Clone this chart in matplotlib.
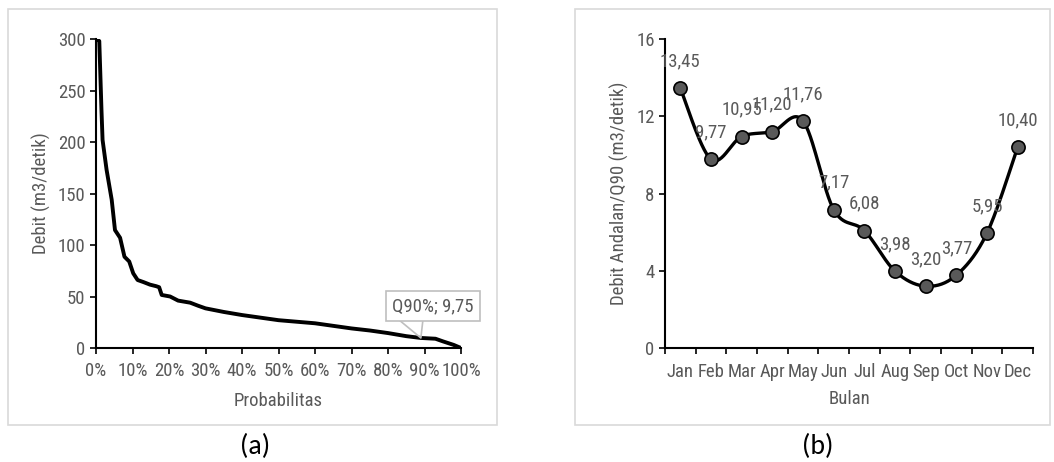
import numpy as np
import matplotlib.pyplot as plt
from matplotlib import font_manager
from matplotlib.patches import Rectangle
from matplotlib.ticker import PercentFormatter, FixedLocator

# cari font sempit (mirip Arial Narrow)
tersedia = {f.name for f in font_manager.fontManager.ttflist}
pilihan = ['Liberation Sans Narrow', 'Arial Narrow', 'Roboto Condensed', 'DejaVu Sans Condensed',
           'Open Sans Condensed', 'Liberation Sans']
font_sempit = next(f for f in pilihan if f in tersedia)
plt.rcParams['font.family'] = [font_sempit, 'DejaVu Sans']
fs = 13.5 if font_sempit != 'Liberation Sans' else 11.5

# kurva durasi debit (a)
prob = [0.0, 0.009, 0.015, 0.018, 0.029, 0.043, 0.052, 0.066, 0.078, 0.091, 0.102,
        0.114, 0.13, 0.148, 0.165, 0.173, 0.18, 0.203, 0.225, 0.258, 0.28, 0.30,
        0.35, 0.40, 0.45, 0.50, 0.55, 0.60, 0.65, 0.70, 0.75, 0.80, 0.85, 0.89,
        0.93, 0.95, 0.98, 1.0]
debit = [300, 298, 231, 202, 173, 144, 114.5, 107, 88.6, 84, 72.5,
         66, 64, 61.5, 60, 59, 51.5, 50, 46, 44, 41, 38.5,
         35, 32, 29.5, 27, 25.5, 24, 21.5, 19, 17, 14.5, 11.5, 9.75,
         9, 6.5, 3, 0]

# debit andalan Q90 per bulan (b)
bulan = ['Jan', 'Feb', 'Mar', 'Apr', 'May', 'Jun', 'Jul', 'Aug', 'Sep', 'Oct', 'Nov', 'Dec']
q90 = [13.45, 9.77, 10.95, 11.20, 11.76, 7.17, 6.08, 3.98, 3.20, 3.77, 5.95, 10.40]
q90_label = ['13,45', '9,77', '10,95', '11,20', '11,76', '7,17', '6,08', '3,98', '3,20', '3,77', '5,95', '10,40']

abu = '#595959'


def smooth(x, y, sx, sy, n=30):
    # kurva halus ala Excel (Bezier dari titik tetangga)
    px = np.asarray(x, float) * sx
    py = np.asarray(y, float) * sy
    P = np.column_stack([px, py])
    P = np.vstack([P[0], P, P[-1]])
    out = []
    t = np.linspace(0, 1, n)[:, None]
    for i in range(1, len(P) - 2):
        p0, p1, p2, p3 = P[i - 1], P[i], P[i + 1], P[i + 2]
        c1 = p1 + (p2 - p0) / 6
        c2 = p2 - (p3 - p1) / 6
        seg = ((1 - t) ** 3) * p1 + 3 * ((1 - t) ** 2) * t * c1 + 3 * (1 - t) * t ** 2 * c2 + t ** 3 * p2
        out.append(seg)
    out = np.vstack(out)
    return out[:, 0] / sx, out[:, 1] / sy


fig = plt.figure(figsize=(10.54, 4.62), dpi=100)

# bingkai
fig.patches.append(Rectangle((8 / 1054, 1 - 425 / 462), 489 / 1054, 416 / 462,
                             transform=fig.transFigure, fill=False, ec='#d9d9d9', lw=1.2))
fig.patches.append(Rectangle((575 / 1054, 1 - 425 / 462), 475 / 1054, 416 / 462,
                             transform=fig.transFigure, fill=False, ec='#d9d9d9', lw=1.2))

# ---- (a)
ax1 = fig.add_axes([96 / 1054, 1 - 348 / 462, 365 / 1054, 309 / 462])
ax1.plot(prob, debit, color='black', lw=2.8, solid_joinstyle='round')
ax1.set_xlim(0, 1)
ax1.set_ylim(0, 300)
ax1.set_xticks(np.arange(0, 1.01, 0.1))
ax1.xaxis.set_major_formatter(PercentFormatter(1.0, decimals=0))
ax1.set_yticks(range(0, 301, 50))
ax1.set_xlabel('Probabilitas', color=abu, fontsize=fs, labelpad=9)
ax1.set_ylabel('Debit (m3/detik)', color=abu, fontsize=fs, labelpad=5)

# label Q90
ax1.text(0.923, 40.3, 'Q90%; 9,75', ha='center', va='center', color=abu, fontsize=fs,
         bbox=dict(boxstyle='square,pad=0.32', fc='white', ec='#bfbfbf', lw=1.2))
ax1.plot([0.827, 0.89, 0.896], [28.2, 9.75, 28.2], color='#bfbfbf', lw=1.2)

# ---- (b)
ax2 = fig.add_axes([665 / 1054, 1 - 348 / 462, 368 / 1054, 309 / 462])
xs = np.arange(len(bulan))
sxv, syv = 368 / 12, 309 / 16
cx, cy = smooth(xs, q90, sxv, syv)
ax2.plot(cx, cy, color='black', lw=2.4)
ax2.plot(xs, q90, 'o', ms=9.5, mfc=abu, mec='black', mew=1.2)
for x, y, lab in zip(xs, q90, q90_label):
    ax2.annotate(lab, (x, y), xytext=(0, 27), textcoords='offset pixels',
                 ha='center', va='center', color=abu, fontsize=fs)
ax2.set_xlim(-0.5, 11.5)
ax2.set_ylim(0, 16)
ax2.set_yticks(range(0, 17, 4))
ax2.set_xticks(np.arange(-0.5, 12, 1))
ax2.set_xticklabels([])
ax2.xaxis.set_minor_locator(FixedLocator(xs))
ax2.set_xticklabels(bulan, minor=True)
ax2.tick_params(axis='x', which='minor', length=0, pad=11)
ax2.set_xlabel('Bulan', color=abu, fontsize=fs, labelpad=6)
ax2.set_ylabel('Debit Andalan/Q90 (m3/detik)', color=abu, fontsize=fs, labelpad=5)

for ax in (ax1, ax2):
    for s in ('top', 'right'):
        ax.spines[s].set_visible(False)
    for s in ('left', 'bottom'):
        ax.spines[s].set_linewidth(1.5)
        ax.spines[s].set_color('black')
    ax.tick_params(which='both', colors=abu, labelsize=fs, direction='out')
    ax.tick_params(which='major', length=4, width=1.2, color='black')
    ax.patch.set_alpha(0)
ax1.tick_params(axis='x', pad=6)

fig.text(255 / 1054, 1 - 446 / 462, '(a)', ha='center', va='center', fontsize=20,
         family=['Carlito', 'Lato', 'DejaVu Sans'])
fig.text(818 / 1054, 1 - 446 / 462, '(b)', ha='center', va='center', fontsize=20,
         family=['Carlito', 'Lato', 'DejaVu Sans'])

fig.savefig('out.png', dpi=100)
